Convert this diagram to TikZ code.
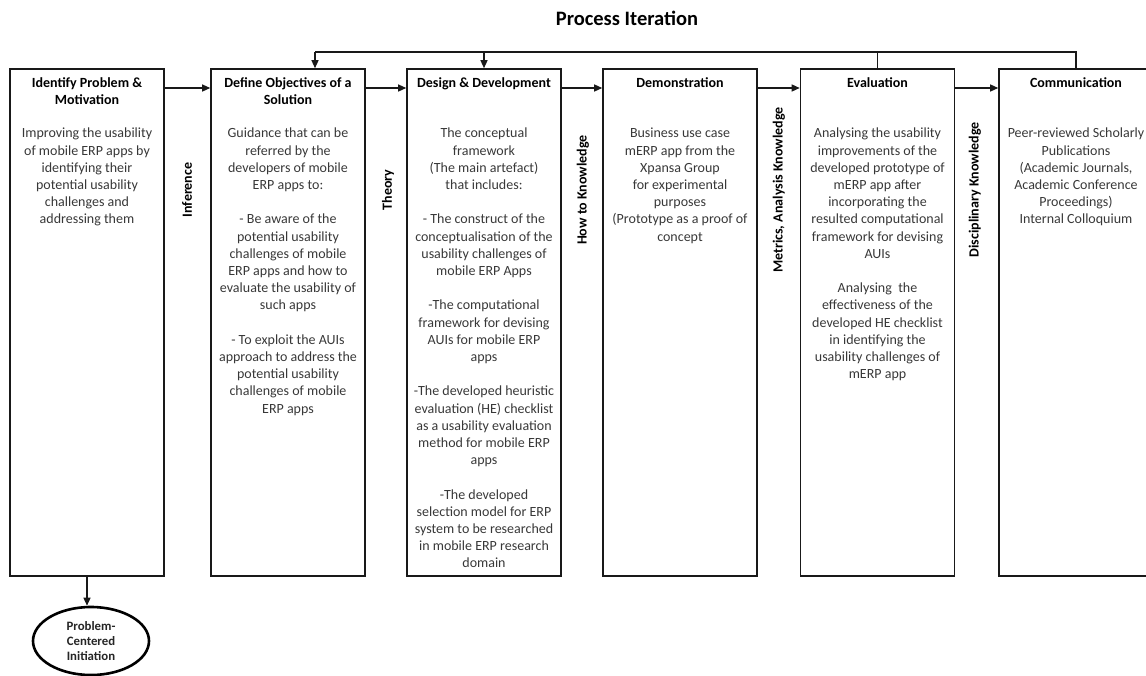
\documentclass[tikz,border=0pt]{standalone}
\usepackage{fontspec}
\setmainfont{Carlito}
\usetikzlibrary{arrows.meta,shapes.geometric}
\begin{document}
\begin{tikzpicture}[x=1pt,y=-1pt,
  stage/.style={draw=black!90,line width=1.6pt,minimum width=154pt,minimum height=507pt,inner sep=0pt},
  head/.style={font=\fontsize{14}{17.1}\selectfont\bfseries,align=center,anchor=north,inner sep=0pt},
  body/.style={font=\fontsize{14}{17.2}\selectfont,text=black!78,align=center,anchor=north,inner sep=0pt},
  side/.style={font=\fontsize{14}{17}\selectfont\bfseries,rotate=90,inner sep=0pt},
  conn/.style={line width=1.3pt,draw=black!90},
  arr/.style={conn,-{Triangle[length=8pt,width=7pt]}},
]
\useasboundingbox (0,0) rectangle (1146,675);

% heading
\node[font=\fontsize{20.5}{24}\selectfont\bfseries] (title) at (627,18) {Process Iteration};

% helper rows for the connectors
\coordinate (rowy) at (0,88);
\coordinate (loopy) at (0,52);

% the six stages
\node[stage] (s1) at (87,322.5) {};
\node[stage] (s2) at (288,322.5) {};
\node[stage] (s3) at (484,322.5) {};
\node[stage] (s4) at (680,322.5) {};
\node[stage] (s5) at (877.5,322.5) {};
\node[stage] (s6) at (1076,322.5) {};

% stage headings
\node[head] (h1) at (87,77.5) {Identify Problem \&\\Motivation};
\node[head] (h2) at (288,77.5) {Define Objectives of a\\Solution};
\node[head] (h3) at (484,77.5) {Design \& Development};
\node[head] (h4) at (680,77.5) {Demonstration};
\node[head] (h5) at (877.5,77.5) {Evaluation};
\node[head] (h6) at (1076,77.5) {Communication};

% stage contents
\node[body] (t1) at (87,128) {Improving the usability\\of mobile ERP apps by\\identifying their\\potential usability\\challenges and\\addressing them};
\node[body] (t2) at (288,128) {Guidance that can be\\referred by the\\developers of mobile\\ERP apps to:\\[17.2pt]
- Be aware of the\\potential usability\\challenges of mobile\\ERP apps and how to\\evaluate the usability of\\such apps\\[17.2pt]
- To exploit the AUIs\\approach to address the\\potential usability\\challenges of mobile\\ERP apps};
\node[body] (t3) at (484,128) {The conceptual\\framework\\(The main artefact)\\that includes:\\[17.2pt]
- The construct of the\\conceptualisation of the\\usability challenges of\\mobile ERP Apps\\[17.2pt]
-The computational\\framework for devising\\AUIs for mobile ERP\\apps\\[17.2pt]
-The developed heuristic\\evaluation (HE) checklist\\as a usability evaluation\\method for mobile ERP\\apps\\[17.2pt]
-The developed\\selection model for ERP\\system to be researched\\in mobile ERP research\\domain};
\node[body] (t4) at (680,128) {Business use case\\mERP app from the\\Xpansa Group\\for experimental\\purposes\\(Prototype as a proof of\\concept};
\node[body] (t5) at (877.5,128) {Analysing the usability\\improvements of the\\developed prototype of\\mERP app after\\incorporating the\\resulted computational\\framework for devising\\AUIs\\[17.2pt]
Analysing\ \ the\\effectiveness of the\\developed HE checklist\\in identifying the\\usability challenges of\\mERP app};
\node[body] (t6) at (1076,128) {Peer-reviewed Scholarly\\Publications\\(Academic Journals,\\Academic Conference\\Proceedings)\\Internal Colloquium};

% knowledge labels between the stages
\node[side] (k1) at (187,190) {Inference};
\node[side] (k2) at (388,190) {Theory};
\node[side] (k3) at (583,190) {How to Knowledge};
\node[side] (k4) at (779,190) {Metrics, Analysis Knowledge};
\node[side] (k5) at (975,190) {Disciplinary Knowledge};

% entry point
\node[ellipse,draw=black,line width=2.6pt,minimum width=116pt,minimum height=68pt,inner sep=0pt,
      font=\fontsize{12.8}{15}\selectfont\bfseries,text=black!85,align=center] (pci) at (91,641)
      {Problem-\\Centered\\Initiation};

% forward flow
\draw[arr] (s1.east |- rowy) -- (s2.west |- rowy);
\draw[arr] (s2.east |- rowy) -- (s3.west |- rowy);
\draw[arr] (s3.east |- rowy) -- (s4.west |- rowy);
\draw[arr] (s4.east |- rowy) -- (s5.west |- rowy);
\draw[arr] (s5.east |- rowy) -- (s6.west |- rowy);

% iteration loop
\draw[conn] (s6.north) -- (s6.north |- loopy) -- ([xshift=27pt]s2.north |- loopy);
\draw[conn] (s5.north) -- (s5.north |- loopy);
\draw[arr] ([xshift=27pt]s2.north |- loopy) -- ([xshift=27pt]s2.north);
\draw[arr] (s3.north |- loopy) -- (s3.north);

% link to the entry point
\draw[arr] (s1.south) -- (s1.south |- pci.north);
\end{tikzpicture}
\end{document}
